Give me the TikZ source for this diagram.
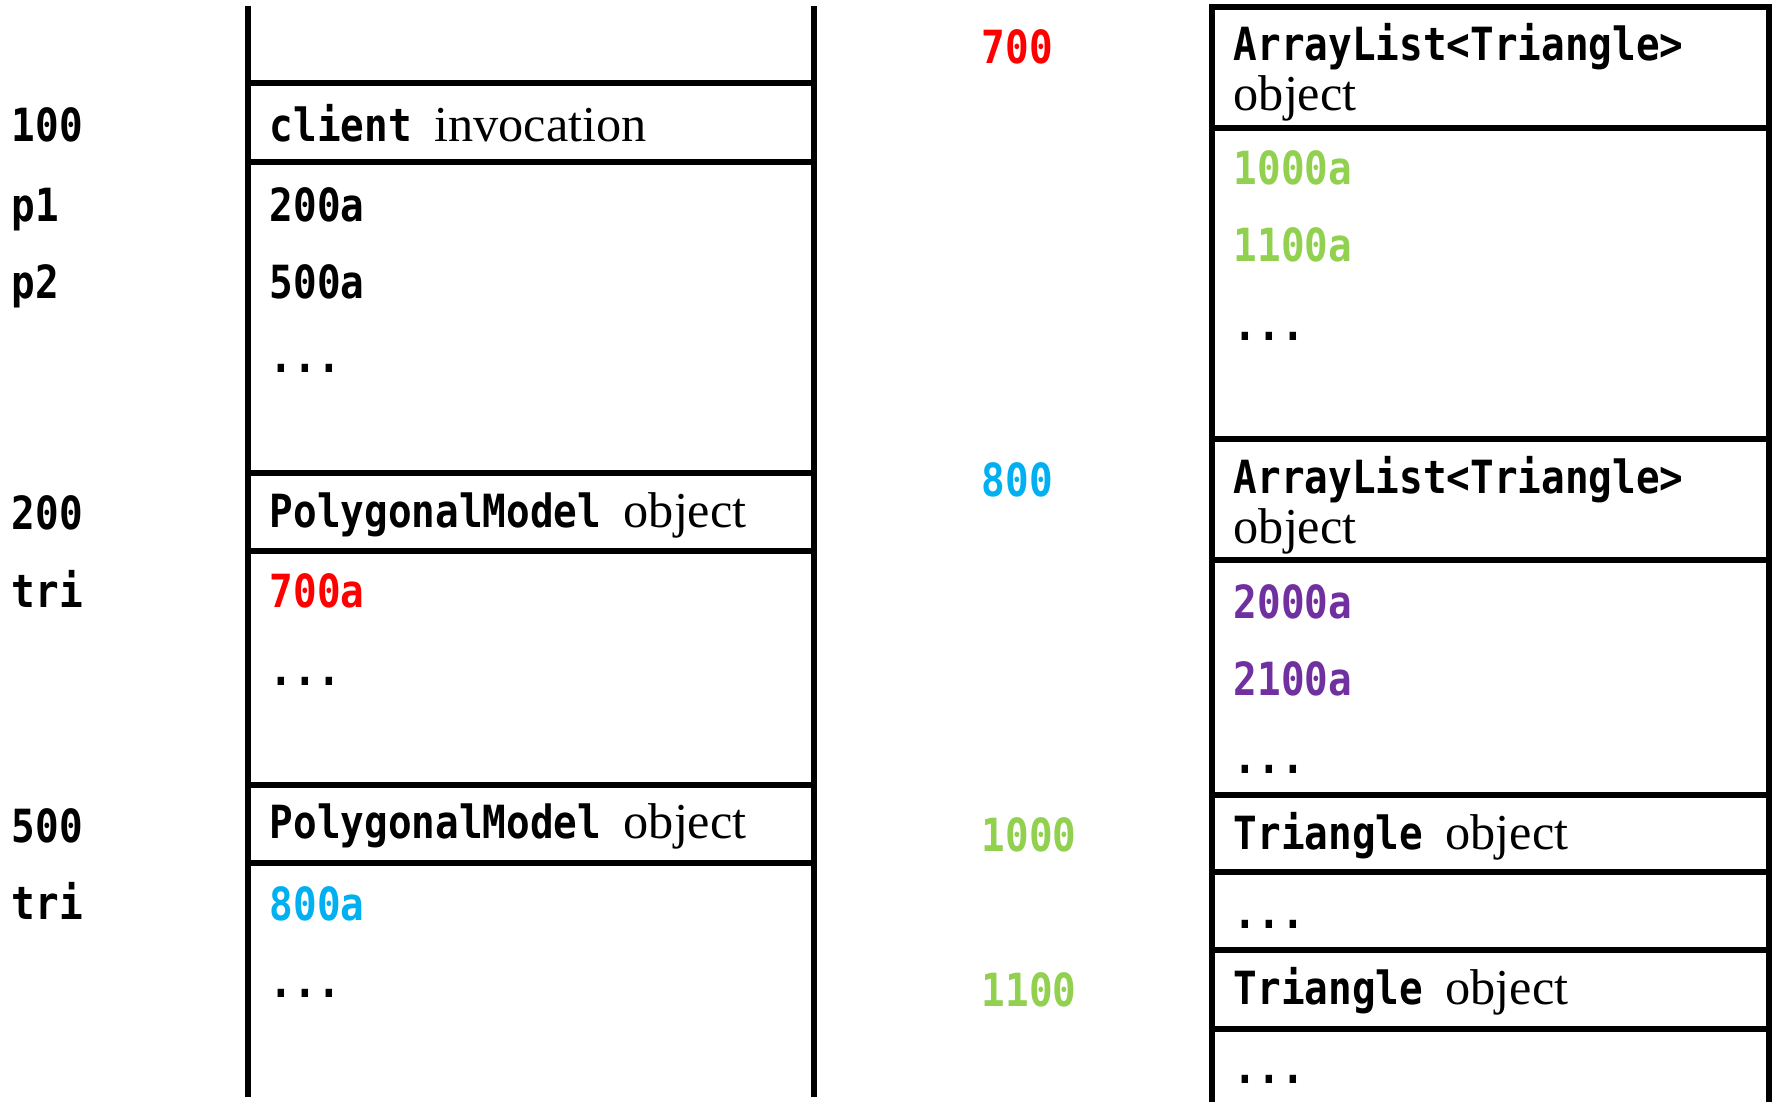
\documentclass[tikz,border=0pt]{standalone}
\usepackage{fontspec}
\setmainfont{Liberation Serif}
\newfontfamily\codefont[FakeStretch=0.86]{DejaVu Sans Mono}
\newcommand{\code}[1]{{\codefont\bfseries\fontsize{13}{15}\selectfont #1}}
\definecolor{refred}{HTML}{FF0000}
\definecolor{refblue}{HTML}{00B0F0}
\definecolor{refgreen}{HTML}{92D050}
\definecolor{refpurple}{HTML}{7030A0}

\begin{document}
\begin{tikzpicture}[x=0.01cm, y=-0.01cm,
    slot/.style={anchor=base west, inner sep=0pt, font=\fontsize{14.3}{17}\selectfont},
    mem/.style={line width=1.5pt}]
  \useasboundingbox (0,0) rectangle (1778,1102);

  % stack frames
  \draw[mem] (248,6) -- (248,1097);
  \draw[mem] (814,6) -- (814,1097);
  \foreach \y in {83,162,473,551,785,863}
    \draw[mem] (248,\y) -- (814,\y);

  % heap
  \draw[mem] (1212,1102) -- (1212,7) -- (1769,7) -- (1769,1102);
  \foreach \y in {128,439,560,795,872,950,1029}
    \draw[mem] (1212,\y) -- (1769,\y);

  % addresses on the stack side
  \node[slot] (s100) at (11,141) {\code{100}};
  \node[slot] (sp1) at (11,221) {\code{p1}};
  \node[slot] (sp2) at (11,298) {\code{p2}};
  \node[slot] (s200) at (11,529) {\code{200}};
  \node[slot] (stri1) at (11,607) {\code{tri}};
  \node[slot] (s500) at (11,842) {\code{500}};
  \node[slot] (stri2) at (11,919) {\code{tri}};

  % stack contents
  \node[slot] (client) at (269,141) {\code{client}\hspace{0.45em}invocation};
  \node[slot] (v200a) at (269,221) {\code{200a}};
  \node[slot] (v500a) at (269,298) {\code{500a}};
  \node[slot] (dots1) at (269,372) {\code{...}};
  \node[slot] (poly1) at (269,527) {\code{PolygonalModel}\hspace{0.45em}object};
  \node[slot] (v700a) at (269,607) {\code{\color{refred}700a}};
  \node[slot] (dots2) at (269,685) {\code{...}};
  \node[slot] (poly2) at (269,838) {\code{PolygonalModel}\hspace{0.45em}object};
  \node[slot] (v800a) at (269,920) {\code{\color{refblue}800a}};
  \node[slot] (dots3) at (269,997) {\code{...}};

  % addresses on the heap side
  \node[slot] (h700) at (981,63) {\code{\color{refred}700}};
  \node[slot] (h800) at (981,496) {\code{\color{refblue}800}};
  \node[slot] (h1000) at (981,851) {\code{\color{refgreen}1000}};
  \node[slot] (h1100) at (981,1006) {\code{\color{refgreen}1100}};

  % heap contents
  \node[slot] (list1) at (1233,60) {\code{ArrayList<Triangle>}};
  \node[slot] (list1o) at (1233,110) {object};
  \node[slot] (v1000a) at (1233,184) {\code{\color{refgreen}1000a}};
  \node[slot] (v1100a) at (1233,261) {\code{\color{refgreen}1100a}};
  \node[slot] (dots4) at (1233,340) {\code{...}};
  \node[slot] (list2) at (1233,493) {\code{ArrayList<Triangle>}};
  \node[slot] (list2o) at (1233,543) {object};
  \node[slot] (v2000a) at (1233,618) {\code{\color{refpurple}2000a}};
  \node[slot] (v2100a) at (1233,695) {\code{\color{refpurple}2100a}};
  \node[slot] (dots5) at (1233,773) {\code{...}};
  \node[slot] (tri1) at (1233,849) {\code{Triangle}\hspace{0.45em}object};
  \node[slot] (dots6) at (1233,928) {\code{...}};
  \node[slot] (tri2) at (1233,1004) {\code{Triangle}\hspace{0.45em}object};
  \node[slot] (dots7) at (1233,1083) {\code{...}};
\end{tikzpicture}
\end{document}
